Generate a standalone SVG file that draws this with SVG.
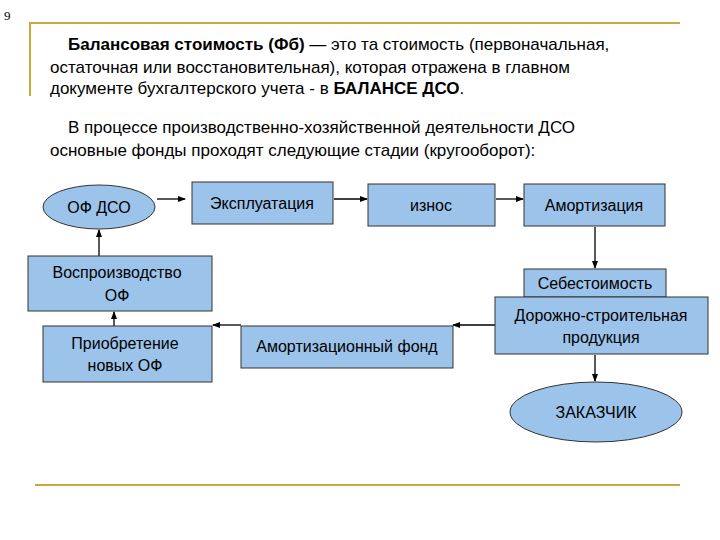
<svg xmlns="http://www.w3.org/2000/svg" width="720" height="540" viewBox="0 0 720 540">
<style>
text{font-family:"Liberation Sans",Arial,sans-serif;fill:#000}
.t{font-size:17px}
.n{font-size:16px;text-anchor:middle}
.b{fill:#9cc3ea;stroke:#333;stroke-width:1}
.c{stroke:#000;stroke-width:1.3;fill:none;marker-end:url(#a)}
.g{stroke:#c8a93c;stroke-width:2;fill:none}
</style>
<defs><marker id="a" markerWidth="8" markerHeight="8" refX="7" refY="4" orient="auto" markerUnits="userSpaceOnUse"><path d="M0,1 L8,4 L0,7 Z" fill="#000"/></marker></defs>
<rect width="720" height="540" fill="#fff"/>
<text x="4" y="20" style="font-family:'Liberation Serif',serif;font-size:13px">9</text>
<path class="g" d="M30,96 V23 H680"/>
<path class="g" d="M35,485 H680"/>
<text class="t" x="68" y="50"><tspan font-weight="bold">Балансовая  стоимость (Фб)</tspan> — это та стоимость (первоначальная,</text>
<text class="t" x="50" y="73">остаточная или восстановительная), которая отражена в главном</text>
<text class="t" x="50" y="94">документе бухгалтерского учета - в <tspan font-weight="bold">БАЛАНСЕ ДСО</tspan>.</text>
<text class="t" x="68" y="133">В процессе производственно-хозяйственной деятельности ДСО</text>
<text class="t" x="50" y="156">основные фонды проходят следующие стадии (кругооборот):</text>
<g id="connectors">
<path class="c" d="M157,199 H185"/>
<path class="c" d="M334,199 H367"/>
<path class="c" d="M496,199 H523"/>
<path class="c" d="M595,227 V268"/>
<path class="c" d="M99,256 V230"/>
<path class="c" d="M114,326 V312"/>
<path class="c" d="M495,325 H453" stroke-width="2.5"/>
<path class="c" d="M241,325 H213" stroke-width="2.5"/>
<path class="c" d="M595,355 V381"/>
</g>
<g id="ofdso"><ellipse class="b" cx="99" cy="207" rx="56" ry="22"/><text class="n" x="99" y="213">ОФ ДСО</text></g>
<g id="expl"><rect class="b" x="192" y="182" width="141" height="42"/><text class="n" x="262" y="209">Эксплуатация</text></g>
<g id="iznos"><rect class="b" x="368" y="184" width="127" height="42"/><text class="n" x="431" y="211">износ</text></g>
<g id="amort"><rect class="b" x="524" y="184" width="141" height="42"/><text class="n" x="594" y="211">Амортизация</text></g>
<g id="vospr"><rect class="b" x="28" y="256" width="184" height="55"/><text class="n" x="117" y="278">Воспроизводство</text><text class="n" x="117" y="301">ОФ</text></g>
<g id="sebest"><rect class="b" x="524" y="269" width="142" height="28"/><text class="n" x="595" y="289">Себестоимость</text></g>
<g id="dsp"><rect class="b" x="495" y="297" width="213" height="57"/><text class="n" x="601" y="321">Дорожно-строительная</text><text class="n" x="601" y="343">продукция</text></g>
<g id="priob"><rect class="b" x="43" y="326" width="169" height="56"/><text class="n" x="125" y="349">Приобретение</text><text class="n" x="125" y="371">новых ОФ</text></g>
<g id="fond"><rect class="b" x="241" y="326" width="212" height="42"/><text class="n" x="347" y="352">Амортизационный фонд</text></g>
<g id="zakaz"><ellipse class="b" cx="596" cy="412" rx="86" ry="30"/><text class="n" x="596" y="418">ЗАКАЗЧИК</text></g>
</svg>
